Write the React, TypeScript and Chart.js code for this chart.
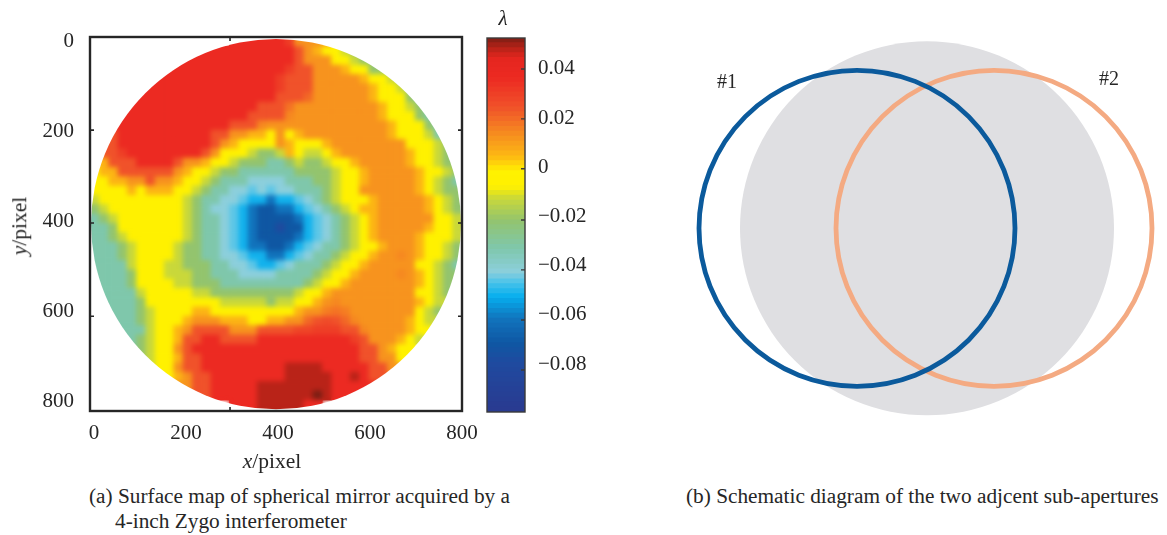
import React, { useEffect, useRef } from "react";
import { Chart, registerables } from "chart.js";

Chart.register(...registerables);

const SERIF = '"Liberation Serif", serif';
const INK = "#262626";

// ---- (a) surface map: wavefront error in 1/1000 lambda
const surfaceRowStart = [15, 11, 9, 8, 6, 5, 4, 3, 2, 2, 1, 1, 0, 0, 0, 0, 0, 0, 0, 0, 0, 0, 0, 0, 0, 0, 0, 0, 1, 1, 2, 2, 3, 4, 5, 6, 7, 9, 11, 15];
const surfaceRows: number[][] = [
  [36,36,36,36,36,36,30,12,12,12,12],
  [36,36,36,36,36,36,36,36,36,36,36,24,12,5,-5,-5,-13,-22],
  [36,36,36,36,36,36,36,36,36,36,36,36,36,24,12,12,12,-5,-5,-13,-22,-22],
  [36,36,36,36,36,36,36,36,36,36,36,36,36,30,24,24,12,12,12,5,-5,-5,-22,-22,-22],
  [36,36,36,36,36,36,36,36,36,36,36,36,36,36,30,24,24,24,12,12,12,12,12,5,-5,-5,-13,-22,-22],
  [36,36,36,36,36,36,36,36,36,36,36,36,36,36,36,30,24,24,24,12,12,12,12,12,12,5,-5,-5,-13,-22,-22],
  [36,36,36,36,36,36,36,36,36,36,36,36,36,36,36,36,24,24,24,20,12,12,12,12,12,12,5,-5,-5,-5,-22,-33,-33],
  [36,36,36,36,36,36,36,36,36,36,36,36,36,36,36,24,24,24,18,12,12,12,12,12,12,12,12,12,5,-5,-5,-13,-22,-33],
  [36,36,36,36,36,36,36,36,36,36,36,36,36,36,36,24,24,24,24,14,12,12,12,12,12,12,12,12,12,5,-5,-5,-5,-22,-33,-33],
  [36,36,36,36,36,36,36,36,36,36,36,36,36,24,24,24,14,12,12,12,12,12,12,12,12,12,12,12,12,12,5,-5,-5,-5,-22,-33,-33],
  [24,24,36,36,36,36,36,36,36,36,36,36,24,24,12,12,5,5,-5,12,-5,5,12,12,12,12,12,12,12,12,12,5,-5,-5,-5,-13,-33,-33],
  [24,24,36,36,36,36,36,36,36,36,36,36,24,12,5,-5,-5,-5,-5,12,5,-5,-5,-5,5,12,12,12,12,12,12,12,12,-5,-5,-5,-13,-22,-33],
  [24,24,24,30,36,36,36,36,36,36,36,36,24,12,-5,-5,-5,-13,-22,-22,-13,5,-5,-13,-13,-5,5,12,12,12,12,12,12,12,5,-5,-5,-13,-22,-22],
  [5,5,24,24,24,36,36,36,36,24,12,12,5,-5,-5,-13,-22,-22,-22,-33,-33,-22,-13,-22,-22,-13,-5,-5,5,12,12,12,12,12,5,-5,-5,-13,-22,-22],
  [-5,5,5,24,24,24,24,24,24,12,5,-5,-5,-13,-22,-22,-33,-33,-33,-33,-33,-33,-22,-22,-22,-22,-13,-5,-5,5,12,12,12,12,12,5,-5,-5,-13,-22],
  [-5,-5,5,5,12,12,24,12,12,5,-5,-5,-13,-22,-33,-33,-33,-43,-43,-43,-43,-33,-33,-33,-22,-22,-13,-5,-5,5,12,12,12,12,12,5,-5,-13,-22,-33],
  [-5,-5,-5,-5,5,-5,5,5,5,-5,-5,-13,-22,-33,-33,-43,-43,-46,-43,-46,-43,-43,-33,-33,-33,-22,-13,-5,-5,12,12,12,12,12,12,5,-5,-13,-22,-22],
  [-13,-5,-5,-5,-5,-5,-5,-5,-5,-5,-13,-22,-33,-33,-43,-43,-46,-52,-52,-62,-52,-52,-46,-43,-33,-22,-13,-5,-5,-5,5,12,12,12,12,12,5,-5,-13,-22],
  [-22,-13,-5,-5,-5,-5,-5,-5,-5,-5,-13,-22,-33,-43,-43,-46,-52,-62,-72,-72,-62,-62,-52,-46,-43,-33,-22,-13,-5,5,5,12,12,12,12,12,5,-5,-13,-22],
  [-33,-22,-13,-5,-5,-5,-5,-5,-5,-5,-13,-22,-33,-33,-43,-46,-52,-62,-72,-72,-72,-72,-62,-52,-46,-43,-33,-22,-13,-5,5,12,12,12,12,12,12,-5,-5,-13],
  [-33,-33,-22,-5,-5,-5,-5,-5,-5,-5,-13,-22,-33,-33,-43,-46,-52,-62,-72,-72,-80,-72,-72,-52,-46,-43,-33,-22,-13,-5,5,12,12,12,12,12,5,-5,-5,-13],
  [-33,-33,-22,-13,-5,-5,-5,-5,-5,-5,-13,-22,-33,-33,-43,-46,-52,-62,-72,-72,-72,-72,-62,-52,-46,-43,-33,-22,-13,-5,5,12,12,12,12,5,-5,-5,-5,-13],
  [-33,-33,-33,-22,-13,-5,-5,-5,-5,-13,-22,-22,-33,-33,-43,-46,-52,-62,-62,-72,-72,-62,-52,-46,-43,-33,-33,-22,-13,-5,-5,5,12,12,12,5,-5,-5,-13,-22],
  [-33,-33,-33,-22,-13,-5,-5,-5,-5,-13,-22,-22,-33,-33,-43,-43,-46,-52,-52,-62,-62,-52,-46,-43,-33,-33,-22,-13,-5,-5,5,12,12,14,12,5,-5,-5,-13,-22],
  [-33,-33,-33,-33,-13,-5,-5,-5,-13,-13,-22,-22,-22,-33,-33,-43,-43,-46,-52,-52,-46,-43,-33,-33,-33,-22,-13,-5,-5,5,12,12,12,12,12,-5,-5,-13,-22,-33],
  [-33,-33,-33,-33,-22,-5,-5,-5,-13,-13,-13,-22,-22,-33,-33,-33,-43,-43,-43,-43,-33,-33,-33,-33,-22,-13,-5,-5,5,12,12,12,12,14,12,5,-5,-13,-22,-22],
  [-33,-33,-33,-33,-22,-5,-5,-5,-5,-13,-13,-22,-22,-22,-33,-33,-33,-33,-33,-33,-33,-33,-33,-22,-13,-5,-5,5,12,12,12,12,12,12,12,5,-5,-13,-22,-22],
  [-33,-33,-33,-33,-33,-13,-5,-5,-5,-5,-5,-13,-13,-22,-22,-22,-22,-22,-22,-22,-22,-22,-13,-5,-5,5,12,12,12,12,12,12,12,12,12,-5,-5,-13,-22],
  [-33,-33,-33,-33,-22,-5,-5,-5,-5,-5,-5,-5,-5,-13,-13,-13,-13,-13,-22,-13,-13,-5,-5,5,12,14,12,12,12,12,12,12,12,12,5,-5,-13,-13],
  [-33,-33,-33,-33,-22,-13,-5,-5,-5,-5,5,5,-5,-5,-5,-5,-5,-5,-5,-5,-5,5,12,12,16,18,16,12,12,12,12,12,12,12,-5,-13,-22],
  [-33,-33,-33,-22,-13,-5,-5,-5,5,12,12,12,5,5,5,-5,-5,5,5,12,12,20,24,26,24,20,14,12,12,12,12,12,5,-5,-13,-13],
  [-33,-33,-33,-33,-13,-5,-5,5,12,24,24,24,24,12,12,12,24,24,24,24,28,28,30,30,30,24,24,14,12,12,12,12,5,-5,-5],
  [-33,-33,-22,-13,-5,-5,5,24,24,36,36,24,24,24,24,36,36,36,36,36,36,36,36,36,36,30,24,12,12,12,5,-5,-13],
  [-33,-22,-13,-5,-5,12,24,36,36,36,36,36,36,36,36,36,36,36,36,36,36,36,36,36,36,24,24,12,5,-5,-5],
  [-22,-13,-5,-5,5,24,24,36,36,36,36,36,36,36,36,36,36,36,36,36,36,36,36,36,24,24,12,12,-5,-5],
  [-13,-5,-5,12,24,24,36,36,36,36,36,36,36,36,36,48,48,48,48,36,36,36,36,36,24,24,12,12],
  [-5,-5,5,12,24,24,36,36,36,36,36,36,36,36,48,48,48,48,48,36,36,48,36,24,24],
  [12,12,24,24,36,36,36,36,36,48,48,48,48,48,48,48,48,36,36,36,36,36],
  [24,24,36,36,36,36,36,48,48,48,48,48,48,56,48,36,36,36],
  [36,36,36,48,48,48,48,48,36,36],
];
const xTickLabels = [0, 200, 400, 600, 800];
const yTickLabels = [0, 200, 400, 600, 800];
const xTickMarks = [295.7];
const yTickMarks = [196.7, 403, 610];
const xRange = [-8.7, 800];
const yRange = [-10, 820.4];
const surfaceCellX = 20.2;
const surfaceCellY = 20.67;
const mirrorCentre = [395.7, 405.5];
const mirrorRadius = [402, 411];

// ---- colour bar
const colorStopValues = [-0.0995, -0.08, -0.072, -0.062, -0.053, -0.047, -0.043, -0.033, -0.022, -0.013, -0.008, -0.002, 0.004, 0.012, 0.024, 0.036, 0.044, 0.048, 0.0526];
const colorStopHex = ["#2a3a90", "#1f4a9f", "#0f57a3", "#1173bc", "#06aeee", "#4cc3ea", "#8ccfdc", "#7fc7ab", "#93c46e", "#c9d83a", "#fff000", "#fff200", "#fdb913", "#f7931e", "#f0522a", "#ec2a22", "#e4261f", "#b92318", "#7a1e14"];
const colorBarTicks = [0.04, 0.02, 0, -0.02, -0.04, -0.06, -0.08];
const colorBarMarks = [0.04, 0.0197, -0.0006, -0.0214, -0.0417, -0.0621, -0.0824];
const colorBarBandSize = 0.002;

// ---- (b) sub-apertures, in arbitrary units centred on the mirror (first dataset is drawn on top)
const apertureNames = ["#1", "#2", "mirror"];
const apertureX = [-70, 67, 0];
const apertureY = [0, 0, 0];
const apertureR = [158, 158, 187];
const apertureFill = ["rgba(0,0,0,0)", "rgba(0,0,0,0)", "#dfdfe2"];
const apertureStroke = ["#0b5a9c", "#f4aa82", "rgba(0,0,0,0)"];
const apertureStrokeWidth = [4.8, 4.8, 0];

const hexToRgb = (h: string) => [1, 3, 5].map((i) => parseInt(h.slice(i, i + 2), 16));
function colorFor(v: number): string {
  const n = colorStopValues.length;
  if (v <= colorStopValues[0]) return colorStopHex[0];
  for (let i = 1; i < n; i++) {
    if (v <= colorStopValues[i]) {
      const t = (v - colorStopValues[i - 1]) / (colorStopValues[i] - colorStopValues[i - 1]);
      const a = hexToRgb(colorStopHex[i - 1]);
      const b = hexToRgb(colorStopHex[i]);
      return `rgb(${a.map((c, k) => Math.round(c + (b[k] - c) * t)).join(",")})`;
    }
  }
  return colorStopHex[n - 1];
}

const setTicks = (values: number[]) => (scale: any) => {
  scale.ticks = values.map((value) => ({ value }));
};

const fmtBar = (v: any) => {
  const n = Number(v);
  if (Math.abs(n) < 1e-9) return "0";
  return (n < 0 ? "\u2212" : "") + Math.abs(n).toFixed(2);
};

const surfacePlugin = {
  id: "surface",
  afterDatasetsDraw(chart: any) {
    const { ctx, scales } = chart;
    const cx = scales.x.getPixelForValue(mirrorCentre[0]);
    const cy = scales.y.getPixelForValue(mirrorCentre[1]);
    const rx = Math.abs(scales.x.getPixelForValue(mirrorCentre[0] + mirrorRadius[0]) - cx);
    const ry = Math.abs(scales.y.getPixelForValue(mirrorCentre[1] + mirrorRadius[1]) - cy);
    ctx.save();
    ctx.setTransform(1, 0, 0, 1, 0, 0);
    ctx.filter = "blur(2.5px)";
    ctx.drawImage(ctx.canvas, 0, 0);
    ctx.filter = "none";
    ctx.globalCompositeOperation = "destination-in";
    ctx.beginPath();
    ctx.ellipse(cx, cy, rx, ry, 0, 0, Math.PI * 2);
    ctx.fill();
    ctx.restore();
  },
  afterDraw(chart: any) {
    const { ctx, chartArea: a, scales } = chart;
    ctx.save();
    ctx.strokeStyle = INK;
    ctx.lineWidth = 2.4;
    ctx.strokeRect(a.left, a.top, a.right - a.left, a.bottom - a.top);
    ctx.lineWidth = 1.6;
    ctx.beginPath();
    xTickMarks.forEach((v) => {
      const p = scales.x.getPixelForValue(v);
      ctx.moveTo(p, a.top);
      ctx.lineTo(p, a.top + 4);
      ctx.moveTo(p, a.bottom);
      ctx.lineTo(p, a.bottom - 4);
    });
    yTickMarks.forEach((v) => {
      const p = scales.y.getPixelForValue(v);
      ctx.moveTo(a.left, p);
      ctx.lineTo(a.left + 4, p);
      ctx.moveTo(a.right, p);
      ctx.lineTo(a.right - 4, p);
    });
    ctx.stroke();
    ctx.restore();
  },
};

const barFramePlugin = {
  id: "barFrame",
  afterDraw(chart: any) {
    const { ctx, chartArea: a, scales } = chart;
    ctx.save();
    ctx.strokeStyle = "#3a3a3a";
    ctx.lineWidth = 1.4;
    ctx.strokeRect(a.left, a.top, a.right - a.left, a.bottom - a.top);
    ctx.beginPath();
    colorBarMarks.forEach((v) => {
      const p = scales.y.getPixelForValue(v);
      ctx.moveTo(a.right, p);
      ctx.lineTo(a.right - 4, p);
    });
    ctx.stroke();
    ctx.restore();
  },
};

const Label = ({ x, y, children, rotate, anchor, size }: any) => (
  <div
    style={{
      position: "absolute",
      left: x,
      top: y,
      font: `${size ?? 20}px ${SERIF}`,
      color: INK,
      whiteSpace: "nowrap",
      lineHeight: 1,
      transform: rotate
        ? "translate(-50%,-50%) rotate(-90deg)"
        : anchor === "cap"
        ? "translateY(-50%)"
        : "translate(-50%,-50%)",
    }}
  >
    {children}
  </div>
);

export default function App() {
  const surfaceRef = useRef<HTMLCanvasElement>(null);
  const barRef = useRef<HTMLCanvasElement>(null);
  const vennRef = useRef<HTMLCanvasElement>(null);

  useEffect(() => {
    const points: { x: number; y: number }[] = [];
    const colors: string[] = [];
    surfaceRows.forEach((row, i) => {
      row.forEach((v, k) => {
        points.push({
          x: xRange[0] + (surfaceRowStart[i] + k + 0.5) * surfaceCellX,
          y: yRange[0] + (i + 0.5) * surfaceCellY,
        });
        colors.push(colorFor(v / 1000));
      });
    });

    const tickFont = { family: SERIF, size: 21 };

    const surface = new Chart(surfaceRef.current!, {
      type: "scatter",
      data: {
        datasets: [
          {
            label: "Surface map",
            data: points,
            pointStyle: "rect",
            pointRadius: 7,
            pointBorderWidth: 0,
            pointBackgroundColor: colors,
          } as any,
        ],
      },
      options: {
        responsive: false,
        animation: false,
        events: [],
        layout: { autoPadding: false, padding: { top: 37, right: 20, bottom: 0, left: 0 } },
        plugins: { legend: { display: false }, tooltip: { enabled: false } },
        scales: {
          x: {
            type: "linear",
            min: xRange[0],
            max: xRange[1],
            afterBuildTicks: setTicks(xTickLabels),
            afterFit: (s: any) => { s.height = 39; },
            grid: { display: false },
            border: { display: false },
            ticks: { z: 1, color: INK, font: tickFont, padding: 2, maxRotation: 0, autoSkip: false, callback: (v: any) => String(v) },
          },
          y: {
            type: "linear",
            reverse: true,
            min: yRange[0],
            max: yRange[1],
            afterBuildTicks: setTicks(yTickLabels),
            afterFit: (s: any) => { s.width = 90; },
            grid: { display: false },
            border: { display: false },
            ticks: { z: 1, color: INK, font: tickFont, padding: 8, autoSkip: false, callback: (v: any) => String(v) },
          },
        },
      } as any,
      plugins: [surfacePlugin],
    });

    const bandDatasets: any[] = [];
    const bandCount = Math.ceil((colorStopValues[colorStopValues.length - 1] - colorStopValues[0]) / colorBarBandSize);
    for (let b = 0; b < bandCount; b++) {
      const lo = colorStopValues[0] + b * colorBarBandSize;
      bandDatasets.push({
        label: "band",
        data: [[lo, lo + colorBarBandSize * 1.1]],
        backgroundColor: colorFor(lo + colorBarBandSize / 2),
        borderWidth: 0,
        barPercentage: 1,
        categoryPercentage: 1,
        grouped: false,
      });
    }
    const bar = new Chart(barRef.current!, {
      type: "bar",
      data: { labels: ["\u03bb"], datasets: bandDatasets },
      options: {
        responsive: false,
        animation: false,
        events: [],
        layout: { autoPadding: false, padding: { top: 38, right: 0, bottom: 18, left: 7 } },
        plugins: { legend: { display: false }, tooltip: { enabled: false } },
        scales: {
          x: { display: false },
          y: {
            position: "right",
            min: colorStopValues[0],
            max: colorStopValues[colorStopValues.length - 1],
            afterBuildTicks: setTicks(colorBarTicks),
            afterFit: (s: any) => { s.width = 80; },
            grid: { display: false },
            border: { display: false },
            ticks: { color: INK, font: tickFont, padding: 5, autoSkip: false, callback: fmtBar },
          },
        },
      } as any,
      plugins: [barFramePlugin],
    });

    const venn = new Chart(vennRef.current!, {
      type: "bubble",
      data: {
        datasets: apertureNames.map((name, i) => ({
          label: name,
          data: [{ x: apertureX[i], y: apertureY[i], r: apertureR[i] }],
          backgroundColor: apertureFill[i],
          borderColor: apertureStroke[i],
          borderWidth: apertureStrokeWidth[i],
        })),
      },
      options: {
        responsive: false,
        animation: false,
        events: [],
        layout: { autoPadding: false, padding: 0 },
        plugins: { legend: { display: false }, tooltip: { enabled: false } },
        scales: {
          x: { display: false, type: "linear", min: -257, max: 240 },
          y: { display: false, type: "linear", min: -198.3, max: 201.7, reverse: true },
        },
      } as any,
    });

    return () => {
      surface.destroy();
      bar.destroy();
      venn.destroy();
    };
  }, []);

  return (
    <div style={{ position: "absolute", left: 0, top: 0, width: 1167, height: 535, overflow: "hidden", background: "#fff" }}>
      <canvas ref={surfaceRef} width={482} height={450} style={{ position: "absolute", left: 0, top: 0 }} />
      <canvas ref={barRef} width={125} height={430} style={{ position: "absolute", left: 480, top: 0 }} />
      <canvas ref={vennRef} width={497} height={400} style={{ position: "absolute", left: 670, top: 30 }} />
      <Label x={20} y={226} rotate size={21.5}><i>y</i>/pixel</Label>
      <Label x={272} y={462} size={21.5}><i>x</i>/pixel</Label>
      <Label x={503} y={18} size={21}><i>λ</i></Label>
      <Label x={727} y={81}>#1</Label>
      <Label x={1109} y={78}>#2</Label>
      <Label x={89} y={497} anchor="cap" size={21.3}>(a) Surface map of spherical mirror acquired by a</Label>
      <Label x={115} y={522} anchor="cap" size={21.3}>4-inch Zygo interferometer</Label>
      <Label x={686} y={497} anchor="cap" size={21.3}>(b) Schematic diagram of the two adjcent sub-apertures</Label>
    </div>
  );
}
